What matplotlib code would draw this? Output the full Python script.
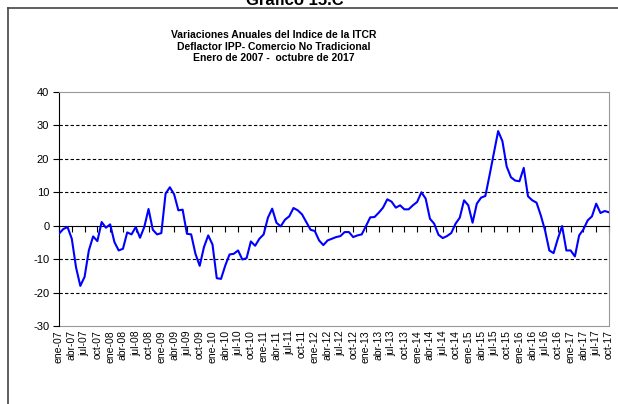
import numpy as np
import matplotlib
matplotlib.use('Agg')
from matplotlib import pyplot as plt
from matplotlib.lines import Line2D

plt.rcParams['font.family'] = ['Liberation Sans', 'DejaVu Sans']
plt.rcParams['axes.unicode_minus'] = False

# variacion anual (%), ene-07 .. oct-17
variacion = [
    -2.4, -1.0, -0.4, -3.9, -12.5, -18.0, -15.3, -7.4, -3.2, -4.6, 1.1, -0.6,
    0.4, -4.9, -7.4, -6.9, -2.0, -2.6, -0.4, -3.6, -0.4, 5.0, -1.2, -2.6,
    -2.2, 9.6, 11.5, 9.4, 4.6, 4.8, -2.4, -2.6, -8.4, -12.0, -6.4, -2.9,
    -5.6, -15.7, -15.9, -11.9, -8.6, -8.4, -7.4, -10.1, -9.7, -4.7, -6.0, -3.9,
    -2.6, 2.4, 5.1, 0.9, -0.2, 1.8, 2.8, 5.3, 4.6, 3.4, 1.1, -1.2,
    -1.6, -4.4, -5.8, -4.4, -3.9, -3.4, -3.1, -1.9, -1.9, -3.4, -2.9, -2.6,
    -0.1, 2.5, 2.6, 3.9, 5.4, 7.9, 7.2, 5.4, 6.1, 4.9, 4.9, 6.1,
    7.1, 10.0, 8.1, 2.1, 0.6, -2.7, -3.7, -3.1, -2.2, 0.6, 2.4, 7.6,
    6.1, 0.9, 6.6, 8.4, 8.9, 15.2, 21.8, 28.3, 25.3, 17.7, 14.5, 13.5,
    13.3, 17.3, 8.8, 7.6, 6.9, 3.1, -1.4, -7.4, -8.2, -3.9, -0.1, -7.4,
    -7.4, -9.2, -2.9, -1.1, 1.6, 2.8, 6.6, 3.8, 4.4, 4.0,
]
meses = ['ene', 'abr', 'jul', 'oct']
anios = ['07', '08', '09', '10', '11', '12', '13', '14', '15', '16', '17']
etiquetas = [m + '-' + a for a in anios for m in meses][:44]

x = np.arange(len(variacion))

fig = plt.figure(figsize=(6.18, 4.04), dpi=100)
ax = fig.add_axes([59/618, 1-326/404, 550/618, 234/404])

ax.plot(x, variacion, color='#0000ff', lw=1.5, zorder=3)
ax.set_xlim(0, len(variacion)-1)
ax.set_ylim(-30, 40)
ax.set_yticks(range(-30, 41, 10))
for g in [-20, -10, 10, 20, 30]:
    ax.axhline(g, color='black', lw=0.8, ls=(0, (3, 2)), zorder=1)

# eje x en cero, etiquetas abajo
ax.spines['bottom'].set_position(('data', 0))
ax.spines['bottom'].set_color('black')
ax.set_xticks(x[::3])
ax.tick_params(axis='x', direction='out', length=4, labelbottom=False, color='black')
ax.tick_params(axis='y', direction='out', length=4, labelsize=8, pad=3)
for s in ['top', 'right']:
    ax.spines[s].set_color('#999999')
ax.spines['left'].set_color('black')

sec = ax.secondary_xaxis(0)
sec.set_xticks(x[::3])
sec.set_xticklabels(etiquetas, rotation=90, fontsize=7.5)
sec.tick_params(length=0, pad=3)
sec.spines['bottom'].set_color('#999999')

fig.text(274/618, 1-35/404, 'Variaciones Anuales del Indice de la ITCR', ha='center', va='center',
         fontsize=7.5, fontweight='bold')
fig.text(274/618, 1-46.5/404, 'Deflactor IPP- Comercio No Tradicional', ha='center', va='center',
         fontsize=7.5, fontweight='bold')
fig.text(274/618, 1-58/404, 'Enero de 2007 -  octubre de 2017', ha='center', va='center',
         fontsize=7.5, fontweight='bold')
fig.text(295/618, 1-5/404, 'Grafico 15.C', ha='center', va='baseline', fontsize=12, fontweight='bold')

# marco exterior
fig.add_artist(Line2D([7.5/618, 7.5/618], [0, 1-7.5/404], color='#444444', lw=1.2))
fig.add_artist(Line2D([7.5/618, 1], [1-7.5/404, 1-7.5/404], color='#444444', lw=1.2))

fig.savefig('out.png', dpi=100)
